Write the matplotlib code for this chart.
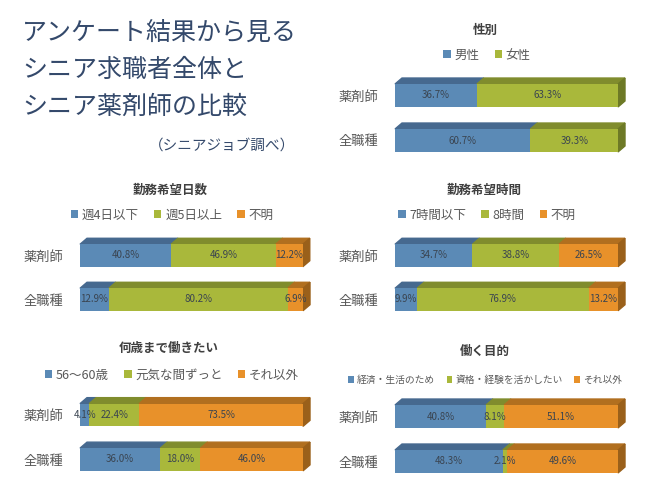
import numpy as np
import matplotlib.pyplot as plt
from matplotlib.patches import Polygon

plt.rcParams['font.family'] = ['Noto Sans CJK JP', 'DejaVu Sans']

W, H = 650, 492

rows = ['薬剤師', '全職種']

gender_labels = ['男性', '女性']
gender_vals = [[36.7, 60.7], [63.3, 39.3]]

days_labels = ['週4日以下', '週5日以上', '不明']
days_vals = [[40.8, 12.9], [46.9, 80.2], [12.2, 6.9]]

hours_labels = ['7時間以下', '8時間', '不明']
hours_vals = [[34.7, 9.9], [38.8, 76.9], [26.5, 13.2]]

age_labels = ['56〜60歳', '元気な間ずっと', 'それ以外']
age_vals = [[4.1, 36.0], [22.4, 18.0], [73.5, 46.0]]

purpose_labels = ['経済・生活のため', '資格・経験を活かしたい', 'それ以外']
purpose_vals = [[40.8, 48.3], [8.1, 2.1], [51.1, 49.6]]

FRONT = ['#5b8ab6', '#a9b83b', '#e8912a']
TOP = ['#46698f', '#808c2d', '#b16f1f']
SIDE = ['#3d5c7f', '#6d7926', '#9a601a']

fig = plt.figure(figsize=(W / 100, H / 100), dpi=100)
fig.patch.set_facecolor('white')


def panel(x0, ytop, spacing, title, title_xy, legend_xy, labels, series, legend_fs=9):
    w = 223
    h = 2 * spacing
    ax = fig.add_axes([x0 / W, 1 - (ytop + h) / H, w / W, h / H])
    ax.set_xlim(0, 100)
    ax.set_ylim(1.5, -0.5)
    ypos = np.arange(len(rows))
    bh = 0.51
    dx = 7 / (w / 100)
    dy = 6 / spacing
    left = np.zeros(len(rows))
    for i, vals in enumerate(series):
        vals = np.array(vals)
        bars = ax.barh(ypos, vals, left=left, height=bh, color=FRONT[i],
                       label=labels[i], zorder=2)
        for y, l, v in zip(ypos, left, vals):
            yt = y - bh / 2
            ax.add_patch(Polygon([(l, yt), (l + v, yt), (l + v + dx, yt - dy), (l + dx, yt - dy)],
                                 closed=True, color=TOP[i], clip_on=False, zorder=1))
        ax.bar_label(bars, labels=[f'{v:.1f}%' for v in vals], label_type='center',
                     fontsize=7, color='#3a4450', zorder=3)
        left = left + vals
    for y, r in zip(ypos, left):
        yt, yb = y - bh / 2, y + bh / 2
        ax.add_patch(Polygon([(r, yt), (r + dx, yt - dy), (r + dx, yb - dy), (r, yb)],
                             closed=True, color=SIDE[len(series) - 1], clip_on=False, zorder=1))
    ax.set_yticks(ypos, rows)
    ax.tick_params(axis='y', length=0, pad=12, labelsize=9.5, labelcolor='#595959')
    ax.set_xticks([])
    for s in ax.spines.values():
        s.set_visible(False)
    fig.text(title_xy[0] / W, 1 - title_xy[1] / H, title, ha='center', va='center',
             fontsize=9, fontweight='bold', color='#404040')
    ax.legend(loc='center', bbox_to_anchor=(legend_xy[0] / W, 1 - legend_xy[1] / H),
              bbox_transform=fig.transFigure, ncol=len(labels), frameon=False,
              fontsize=legend_fs, labelcolor='#595959', handlelength=0.6, handleheight=0.6,
              handletextpad=0.3, columnspacing=1.2, borderpad=0)


panel(395, 73, 45, '性別', (485, 30), (487, 55), gender_labels, gender_vals)
panel(80, 233.5, 44, '勤務希望日数', (170, 190), (172, 215), days_labels, days_vals)
panel(395, 233.5, 44, '勤務希望時間', (484, 190), (487, 215), hours_labels, hours_vals)
panel(80, 392.75, 44.5, '何歳まで働きたい', (169, 348), (172, 375), age_labels, age_vals)
panel(395, 394, 45, '働く目的', (485, 351), (485, 380), purpose_labels, purpose_vals, legend_fs=7)

title_lines = ['アンケート結果から見る', 'シニア求職者全体と', 'シニア薬剤師の比較']
for k, line in enumerate(title_lines):
    fig.text(22 / W, 1 - (33 + 37 * k) / H, line, ha='left', va='center',
             fontsize=18, color='#34496b')
fig.text(149 / W, 1 - 146 / H, '（シニアジョブ調べ）', ha='left', va='center',
         fontsize=10.5, color='#34496b')

fig.savefig('out.png', dpi=100)
